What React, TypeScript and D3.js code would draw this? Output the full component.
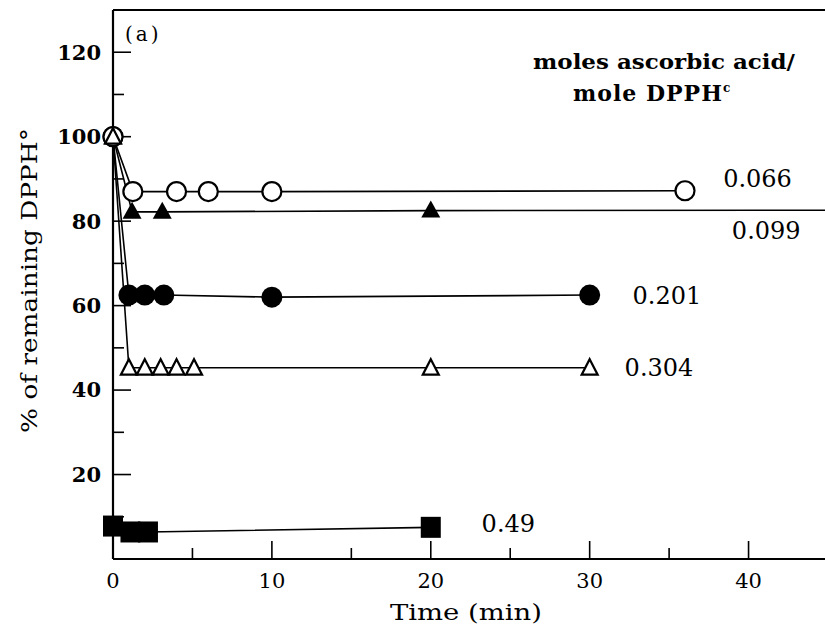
import React from 'react';
import * as d3 from 'd3';

// chart size
const svgWidth = 825;
const svgHeight = 634;
const left = 113;   // y axis position
const right = 828;  // where x = 45 would land (plot runs off the page)
const top = 10;
const bottom = 559;
const font = '"DejaVu Serif", "Liberation Serif", serif';

// data: time (min) and % of remaining DPPH
const seriesNames = ['0.066', '0.099', '0.201', '0.304', '0.49'];
const seriesMarkers = ['openCircle', 'filledTriangle', 'filledCircle', 'openTriangle', 'filledSquare'];
const times066 = [0, 1.25, 4, 6, 10, 36];
const values066 = [100, 87, 87, 87, 87, 87.2];
const times099 = [0, 1.2, 3.1, 20];
const values099 = [100, 82.2, 82.2, 82.5];
const times201 = [0, 1, 2, 3.2, 10, 30];
const values201 = [100, 62.5, 62.5, 62.5, 62, 62.5];
const times304 = [0, 1, 2, 3, 4, 5.1, 20, 30];
const values304 = [100, 45.3, 45.3, 45.3, 45.3, 45.3, 45.3, 45.3];
const times49 = [0, 1.1, 2.2, 20];
const values49 = [7.8, 6.4, 6.4, 7.5];
// the 0.099 line is drawn on past its last point to the edge of the plot
const tailTimes = [null, 45, null, null, null];
const tailValues = [null, 82.6, null, null, null];

// where each series label starts (time, value)
const labelTimes = [38.4, 38.95, 32.7, 32.2, 23.2];
const labelValues = [90, 77.8, 62.4, 45.3, 8.3];

const xTicks = [0, 10, 20, 30, 40];
const xMinorTicks = [5, 15, 25, 35];
const yTicks = [20, 40, 60, 80, 100, 120];
const yMinorTicks = [10, 30, 50, 70, 90, 110];

const allTimes = [times066, times099, times201, times304, times49];
const allValues = [values066, values099, values201, values304, values49];

const xScale = d3.scaleLinear().domain([0, 45]).range([left, right]);
const yScale = d3.scaleLinear().domain([0, 130]).range([bottom, top]);

const line = d3.line<[number, number]>()
  .x(d => xScale(d[0]))
  .y(d => yScale(d[1]));

// marker shapes, drawn around (0,0)
function Marker({ kind }: { kind: string }) {
  if (kind === 'openCircle') return <circle r={9.5} fill="white" stroke="black" strokeWidth={2.2} />;
  if (kind === 'filledCircle') return <circle r={10.5} fill="black" />;
  if (kind === 'filledSquare') return <rect x={-10} y={-10.5} width={20} height={21} fill="black" />;
  if (kind === 'filledTriangle') return <path d="M0,-10 L9.5,7 L-9.5,7 Z" fill="black" />;
  return <path d="M0,-8.5 L8,7 L-8,7 Z" fill="white" stroke="black" strokeWidth={2.2} strokeLinejoin="miter" />;
}

export default function App() {
  // draw order so open markers sit on top
  const order = [4, 2, 1, 0, 3];

  return (
    <svg width={svgWidth} height={svgHeight} style={{ position: 'absolute', left: 0, top: 0, background: 'white' }}
      fontFamily={font} fill="black">
      <rect width={svgWidth} height={svgHeight} fill="white" />

      {/* frame */}
      <line x1={left} x2={left} y1={top} y2={bottom} stroke="black" strokeWidth={2.2} />
      <line x1={left} x2={svgWidth} y1={top} y2={top} stroke="black" strokeWidth={2} />
      <line x1={left} x2={svgWidth} y1={bottom} y2={bottom} stroke="black" strokeWidth={2.2} />

      {/* y ticks, pointing inward */}
      {yTicks.map(t => (
        <g key={'y' + t}>
          <line x1={left} x2={left + 18} y1={yScale(t)} y2={yScale(t)} stroke="black" strokeWidth={1.6} />
          <text x={left - 12} y={yScale(t)} dy="0.35em" textAnchor="end" fontSize={21} fontWeight="bold">{t}</text>
        </g>
      ))}
      {yMinorTicks.map(t => (
        <line key={'ym' + t} x1={left} x2={left + 11} y1={yScale(t)} y2={yScale(t)} stroke="black" strokeWidth={1.6} />
      ))}

      {/* x ticks */}
      {xTicks.map(t => (
        <g key={'x' + t}>
          <line x1={xScale(t)} x2={xScale(t)} y1={bottom} y2={bottom - 18} stroke="black" strokeWidth={1.6} />
          <text x={xScale(t)} y={bottom + 22} dy="0.35em" textAnchor="middle" fontSize={21}>{t}</text>
        </g>
      ))}
      {xMinorTicks.map(t => (
        <line key={'xm' + t} x1={xScale(t)} x2={xScale(t)} y1={bottom} y2={bottom - 11} stroke="black" strokeWidth={1.6} />
      ))}

      {/* axis titles */}
      <text x={390} y={612} dy="0.35em" fontSize={22} textLength={152} lengthAdjust="spacingAndGlyphs">Time (min)</text>
      <text transform="translate(29,433) rotate(-90)" dy="0.35em" fontSize={23}
        textLength={305} lengthAdjust="spacingAndGlyphs">% of remaining DPPH°</text>
      <text x={125} y={34} dy="0.35em" fontSize={20} letterSpacing={3}>(a)</text>

      {/* legend title */}
      <text x={533} y={62} dy="0.35em" fontSize={21} fontWeight="bold" textLength={262} lengthAdjust="spacingAndGlyphs">
        moles ascorbic acid/
      </text>
      <text x={573} y={93} dy="0.35em" fontSize={22} fontWeight="bold" letterSpacing={1}>
        mole DPPH<tspan fontSize={12} dy="-0.7em">c</tspan>
      </text>

      {/* lines */}
      {allTimes.map((ts, i) => {
        const pts: [number, number][] = ts.map((t, j) => [t, allValues[i][j]]);
        if (tailTimes[i] !== null) pts.push([tailTimes[i] as number, tailValues[i] as number]);
        return <path key={'l' + i} d={line(pts) || ''} fill="none" stroke="black" strokeWidth={1.6} />;
      })}

      {/* markers */}
      {order.map(i => (
        <g key={'m' + i}>
          {allTimes[i].map((t, j) => (
            <g key={j} transform={`translate(${xScale(t)},${yScale(allValues[i][j])})`}>
              <Marker kind={seriesMarkers[i]} />
            </g>
          ))}
        </g>
      ))}

      {/* series labels */}
      {seriesNames.map((name, i) => (
        <text key={'n' + i} x={xScale(labelTimes[i])} y={yScale(labelValues[i])} dy="0.35em" fontSize={24}>{name}</text>
      ))}
    </svg>
  );
}
